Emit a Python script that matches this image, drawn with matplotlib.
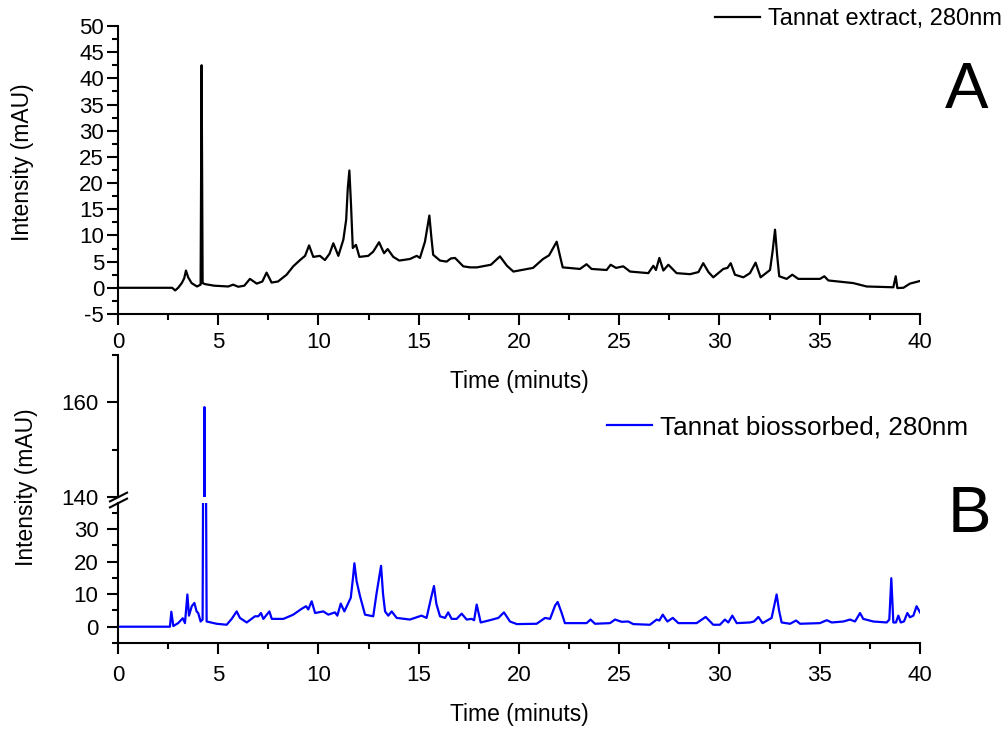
import matplotlib
matplotlib.use("Agg")
import matplotlib.pyplot as plt
from matplotlib.lines import Line2D
from matplotlib.ticker import MultipleLocator

plt.rcParams["font.family"] = ["Liberation Sans", "DejaVu Sans"]
plt.rcParams["axes.unicode_minus"] = False

# ----------------------------------------------------------------------
# Chromatogram traces (retention time in minutes, absorbance in mAU)
# ----------------------------------------------------------------------
extract_time = [
    0.0, 2.7, 2.85, 3.0, 3.18, 3.3, 3.39, 3.5, 3.67, 3.94, 4.12, 4.17, 4.22,
    4.34, 4.8, 5.5, 5.74, 6.0, 6.3, 6.58, 6.92, 7.2, 7.41, 7.66, 7.98, 8.41,
    8.74, 9.08, 9.33, 9.53, 9.74, 10.07, 10.32, 10.55, 10.74, 10.99, 11.24,
    11.38, 11.46, 11.54, 11.62, 11.71, 11.87, 12.04, 12.48, 12.73, 13.02,
    13.27, 13.45, 13.73, 14.03, 14.56, 14.9, 15.06, 15.31, 15.45, 15.53,
    15.62, 15.72, 16.06, 16.39, 16.6, 16.81, 17.22, 17.56, 17.9, 18.6, 19.05,
    19.4, 19.72, 20.7, 21.2, 21.5, 21.88, 22.05, 22.18, 23.04, 23.37, 23.62,
    24.37, 24.57, 24.84, 25.2, 25.54, 26.45, 26.7, 26.83, 27.0, 27.2, 27.45,
    27.86, 28.53, 28.95, 29.19, 29.45, 29.69, 30.19, 30.4, 30.56, 30.77,
    31.19, 31.52, 31.8, 32.05, 32.52, 32.65, 32.77, 32.88, 32.98, 33.35,
    33.63, 33.93, 35.01, 35.23, 35.43, 36.67, 37.34, 38.67, 38.79, 38.87,
    39.17, 39.5, 40.0,
]
extract_mau = [
    0.0, 0.0, -0.5, 0.0, 0.9, 1.8, 3.3, 2.0, 0.9, 0.25, 0.6, 42.5, 0.9,
    0.7, 0.4, 0.25, 0.6, 0.2, 0.4, 1.7, 0.8, 1.2, 2.9, 1.0, 1.2, 2.5,
    4.1, 5.3, 6.1, 8.1, 5.9, 6.1, 5.3, 6.5, 8.5, 6.1, 9.2,
    13.0, 19.0, 22.4, 16.0, 7.6, 8.2, 5.9, 6.1, 6.9, 8.7,
    6.6, 7.4, 5.9, 5.2, 5.5, 6.1, 5.7, 8.8, 12.0, 13.8,
    10.0, 6.3, 5.2, 5.0, 5.6, 5.7, 4.1, 3.9, 3.9, 4.4, 6.0,
    4.2, 3.1, 3.8, 5.5, 6.2, 8.8, 6.0, 3.9, 3.6, 4.5, 3.6,
    3.4, 4.4, 3.8, 4.1, 3.1, 2.8, 4.2, 3.4, 5.7, 3.3, 4.4,
    2.8, 2.6, 3.0, 4.7, 3.0, 2.0, 3.6, 3.8, 4.7, 2.5,
    2.0, 2.8, 4.8, 2.0, 3.4, 7.0, 11.1, 6.0, 2.2, 1.7,
    2.5, 1.7, 1.7, 2.2, 1.4, 0.9, 0.25, 0.1, 2.2, -0.05,
    0.0, 0.8, 1.3,
]

biosorbed_time = [
    0.0, 2.59, 2.66, 2.76, 3.0, 3.23, 3.34, 3.46, 3.54, 3.68, 3.81, 3.92,
    4.0, 4.12, 4.22, 4.31, 4.42, 4.92, 5.42, 5.67, 5.92, 6.08, 6.42, 6.83,
    7.0, 7.13, 7.25, 7.55, 7.67, 8.25, 8.74, 9.16, 9.38, 9.49, 9.66, 9.83,
    10.24, 10.49, 10.82, 10.94, 11.11, 11.29, 11.49, 11.61, 11.72, 11.79,
    11.9, 12.07, 12.32, 12.73, 12.9, 13.12, 13.22, 13.32, 13.48, 13.65,
    13.9, 14.56, 15.14, 15.39, 15.62, 15.76, 15.88, 16.06, 16.31, 16.47,
    16.64, 16.89, 17.14, 17.39, 17.64, 17.76, 17.89, 18.09, 18.55, 18.97,
    19.25, 19.55, 19.89, 20.88, 21.3, 21.55, 21.8, 21.93, 22.13, 22.29,
    23.37, 23.57, 23.79, 24.54, 24.79, 25.12, 25.45, 25.7, 26.53, 26.87,
    27.0, 27.17, 27.4, 27.67, 27.95, 28.86, 29.31, 29.69, 30.02, 30.27,
    30.44, 30.64, 30.86, 31.52, 31.72, 31.94, 32.15, 32.6, 32.75, 32.85,
    32.97, 33.1, 33.52, 33.82, 34.02, 35.01, 35.35, 35.6, 36.18, 36.51,
    36.76, 37.01, 37.17, 37.67, 38.34, 38.47, 38.57, 38.67, 38.8, 38.92,
    39.04, 39.2, 39.37, 39.5, 39.67, 39.83, 40.0,
]
biosorbed_mau = [
    0.0, 0.0, 4.6, 0.2, 1.1, 2.6, 1.1, 9.9, 3.4, 6.3, 7.3, 4.7,
    4.2, 1.6, 2.2, 159.0, 1.6, 0.9, 0.6, 2.4, 4.7, 2.7, 1.3, 3.2,
    3.2, 4.2, 2.4, 4.7, 2.4, 2.4, 3.7, 5.5, 6.3, 5.3, 7.8, 4.2,
    4.7, 3.7, 4.4, 3.4, 7.1, 4.7, 7.3, 8.9, 15.0, 19.5,
    14.0, 9.4, 3.7, 3.2, 10.4, 18.7, 10.0, 4.7, 3.4, 4.7,
    2.7, 2.2, 3.4, 2.7, 9.0, 12.5, 7.0, 3.2, 2.7, 4.4,
    2.4, 2.4, 4.0, 2.2, 2.4, 2.0, 6.8, 1.3, 2.0, 2.7,
    4.4, 1.6, 0.8, 0.9, 2.7, 2.4, 6.5, 7.6, 4.2, 1.1,
    1.1, 2.2, 0.9, 1.1, 2.2, 1.5, 1.6, 0.8, 0.6, 2.2,
    1.9, 3.7, 1.6, 2.7, 1.1, 1.1, 3.0, 0.6, 0.6, 2.2,
    1.3, 3.4, 1.1, 1.3, 1.6, 3.0, 1.1, 2.7, 7.0, 9.9,
    5.0, 1.3, 0.9, 1.9, 0.9, 1.1, 2.0, 1.3, 1.6, 2.2,
    1.6, 4.2, 2.4, 1.6, 1.3, 2.2, 14.9, 1.3, 1.3, 3.4,
    1.3, 1.6, 4.2, 2.9, 3.4, 6.3, 4.4,
]

x_ticks = [0, 5, 10, 15, 20, 25, 30, 35, 40]
extract_yticks = [-5, 0, 5, 10, 15, 20, 25, 30, 35, 40, 45, 50]
biosorbed_low_yticks = [0, 10, 20, 30]
biosorbed_high_yticks = [140, 160]

LABEL_SIZE = 16.5
TICK_SIZE = 16


def style_axis(ax, show_x=True, ypad=2, xpad=5):
    """Origin-like look: left/bottom spines only, outward major + minor ticks."""
    ax.patch.set_visible(False)
    for side in ("top", "right"):
        ax.spines[side].set_visible(False)
    for side in ("left", "bottom"):
        ax.spines[side].set_linewidth(1.5)
    ax.tick_params(which="major", direction="out", length=8, width=1.5,
                   labelsize=TICK_SIZE)
    ax.tick_params(which="minor", direction="out", length=4, width=1.5)
    ax.tick_params(axis="x", which="major", pad=xpad)
    ax.tick_params(axis="y", which="major", pad=ypad)
    ax.tick_params(top=False, right=False, which="both")
    if show_x:
        ax.set_xlim(0, 40)
        ax.set_xticks(x_ticks)
        ax.xaxis.set_minor_locator(MultipleLocator(2.5))
    else:
        ax.spines["bottom"].set_visible(False)
        ax.tick_params(axis="x", which="both", bottom=False, labelbottom=False)


fig = plt.figure(figsize=(10.06, 7.29), dpi=100)

# --- Panel A: crude extract ---
ax_a = fig.add_axes([0.1173, 0.5693, 0.7972, 0.3951])
ax_a.plot(extract_time, extract_mau, color="black", lw=1.6,
          label="Tannat extract, 280nm")
style_axis(ax_a)
ax_a.set_ylim(-5, 50)
ax_a.set_yticks(extract_yticks)
ax_a.yaxis.set_minor_locator(MultipleLocator(2.5))
ax_a.set_xlabel("Time (minuts)", fontsize=LABEL_SIZE, labelpad=12)
ax_a.legend(loc="upper left", bbox_to_anchor=(0.7107, 0.989),
            bbox_transform=fig.transFigure, frameon=False, fontsize=17,
            handlelength=1.9, handletextpad=0.35, borderpad=0, borderaxespad=0)

# --- Panel B: biosorbed sample, broken y axis ---
ax_hi = fig.add_axes([0.1173, 0.3182, 0.7972, 0.1948])
ax_lo = fig.add_axes([0.1173, 0.1180, 0.7972, 0.1920], sharex=ax_hi)
for ax in (ax_hi, ax_lo):
    ax.plot(biosorbed_time, biosorbed_mau, color="#0000ff", lw=1.6,
            label="Tannat biossorbed, 280nm")

style_axis(ax_hi, show_x=False, ypad=6)
ax_hi.set_ylim(140, 170)
ax_hi.set_yticks(biosorbed_high_yticks)
ax_hi.yaxis.set_minor_locator(MultipleLocator(10))

style_axis(ax_lo, ypad=6, xpad=8)
ax_lo.set_ylim(-5, 38)
ax_lo.set_yticks(biosorbed_low_yticks)
ax_lo.yaxis.set_minor_locator(MultipleLocator(5))
ax_lo.set_xlabel("Time (minuts)", fontsize=LABEL_SIZE, labelpad=12)

ax_lo.legend(loc="upper left", bbox_to_anchor=(0.6034, 0.4307),
             bbox_transform=fig.transFigure, frameon=False, fontsize=18.8,
             handlelength=1.72, handletextpad=0.31, borderpad=0, borderaxespad=0)

# break marks on the left spine between the two segments
for y in (0.3182, 0.3100):
    fig.add_artist(Line2D([0.1093, 0.1263], [y - 0.006, y + 0.006],
                          transform=fig.transFigure, color="black", lw=1.5))

# y labels and panel letters
fig.text(23 / 1006, 1 - 162 / 729, "Intensity (mAU)", rotation=90,
         ha="center", va="center", fontsize=LABEL_SIZE)
fig.text(27 / 1006, 1 - 487 / 729, "Intensity (mAU)", rotation=90,
         ha="center", va="center", fontsize=LABEL_SIZE)
fig.text(967 / 1006, 1 - 108 / 729, "A", ha="center", va="baseline", fontsize=47)
fig.text(969 / 1006, 1 - 532 / 729, "B", ha="center", va="baseline", fontsize=47)

fig.savefig("out.png", dpi=100)
